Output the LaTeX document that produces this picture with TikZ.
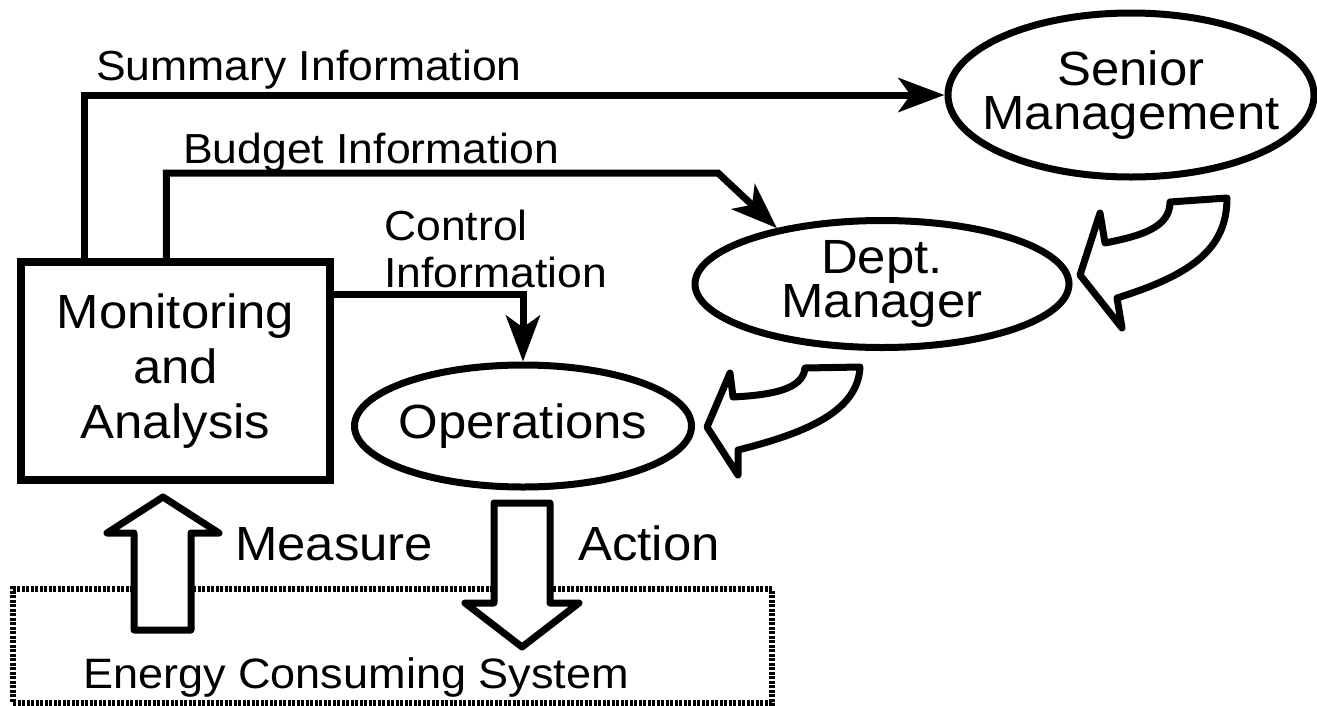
\documentclass[tikz,border=0pt]{standalone}
\usepackage{fontspec}
\setmainfont{Liberation Sans}[FakeStretch=1.06]
\usetikzlibrary{arrows.meta,shapes.geometric,calc}

\begin{document}
\begin{tikzpicture}[
        x=1pt, y=-1pt,
        box/.style={rectangle, draw, line width=7.5pt, minimum width=309pt, minimum height=218pt, inner sep=0pt, align=center, font=\fontsize{48}{55}\selectfont},
        oval/.style={ellipse, draw, line width=7pt, inner xsep=-50pt, inner ysep=-15pt, align=center, font=\fontsize{48}{44}\selectfont},
        info/.style={anchor=base west, inner sep=0pt, align=left, font=\fontsize{42}{47}\selectfont},
        word/.style={anchor=base west, inner sep=0pt, font=\fontsize{48}{55}\selectfont},
        sysbox/.style={rectangle, draw, line width=6pt, dash pattern=on 3pt off 1.5pt, minimum width=759pt, minimum height=114pt},
        arrow/.style={-{Stealth[length=46pt, width=34pt, inset=12pt]}, line width=7pt},
        bigarrow/.style={draw, fill=white, line width=7pt, line join=round},
    ]
        \useasboundingbox (0,0) rectangle (1317,705);

        \node[box] (mon) at (175.5,371) {Monitoring\\and\\Analysis};
        \node[oval, minimum width=366pt, minimum height=164pt] (senior) at (1131,95) {Senior\\Management};
        \node[oval, minimum width=374pt, minimum height=127pt] (dept) at (882,284) {Dept.\\Manager};
        \node[oval, minimum width=337pt, minimum height=122pt] (ops) at (523,426) {Operations};

        \node[info] (suminfo) at (96,80) {Summary Information};
        \node[info] (budinfo) at (183,163) {Budget Information};
        \node[info] (ctrlinfo) at (384,287) {Control\\Information};

        \coordinate (budbend) at (718,173);
        \draw[arrow] ($(mon.north west)+(67,0)$) |- (senior.west);
        \draw[arrow] ($(mon.north west)+(149,0)$) |- (budbend) -- (dept.152);
        \draw[arrow] ($(mon.north east)+(0,36)$) -| (ops.north);

        % feedback arrows
        \draw[bigarrow] (1227,198) -- (1170,202) .. controls (1170,228) and (1140,236) .. (1105,243)
            -- (1100,213) -- (1080,275) -- (1122,328) -- (1117,298)
            .. controls (1190,275) and (1227,250) .. (1227,198) -- cycle;
        \draw[bigarrow] (860,367) -- (805,368) .. controls (803,390) and (770,395) .. (733,397)
            -- (730,373) -- (707,427) -- (738,475) -- (738,450)
            .. controls (810,432) and (858,410) .. (860,367) -- cycle;

        \node[sysbox] (ecs) at (392.5,646) {};
        \node[anchor=base, inner sep=0pt, font=\fontsize{42.5}{47}\selectfont] (ecslabel) at (356,688) {Energy Consuming System};

        \draw[bigarrow] (134,630) -- (134,533) -- (107,533) -- (163,497) -- (219,533) -- (191,533) -- (191,630) -- cycle;
        \draw[bigarrow] (494,503) -- (550,503) -- (550,603) -- (579,603) -- (522,647) -- (465,603) -- (494,603) -- cycle;
        \node[word] (measure) at (235,560) {Measure};
        \node[word] (action) at (578,560) {Action};

    \end{tikzpicture}
\end{document}
